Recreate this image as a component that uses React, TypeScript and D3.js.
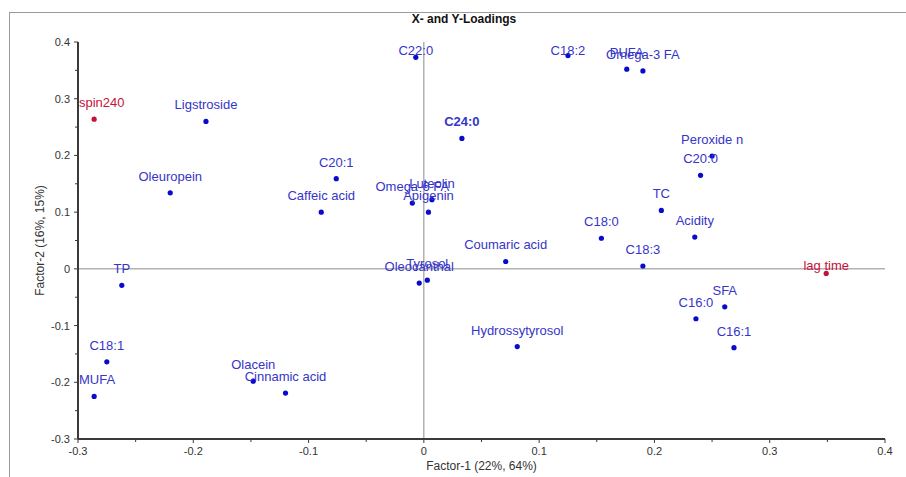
import React from "react";
import * as d3 from "d3";

const labels = [
  "spin240", "Ligstroside", "C22:0", "Oleuropein", "C20:1", "Caffeic acid",
  "Omega-6 FA", "Luteolin", "Apigenin", "C24:0", "C18:2", "PUFA", "Omega-3 FA",
  "Peroxide n", "C20:0", "TC", "Acidity", "C18:0", "Coumaric acid", "C18:3",
  "lag time", "SFA", "C16:0", "C16:1", "Hydrossytyrosol", "Tyrosol",
  "Oleocanthal", "TP", "C18:1", "MUFA", "Olacein", "Cinnamic acid",
];
const factor1 = [
  -0.286, -0.189, -0.007, -0.22, -0.076, -0.089,
  -0.01, 0.007, 0.004, 0.033, 0.125, 0.176, 0.19,
  0.25, 0.24, 0.206, 0.235, 0.154, 0.071, 0.19,
  0.349, 0.261, 0.236, 0.269, 0.081, 0.003,
  -0.004, -0.262, -0.275, -0.286, -0.148, -0.12,
];
const factor2 = [
  0.264, 0.26, 0.373, 0.134, 0.159, 0.1,
  0.116, 0.122, 0.1, 0.23, 0.376, 0.352, 0.349,
  0.199, 0.165, 0.103, 0.056, 0.054, 0.013, 0.005,
  -0.008, -0.067, -0.088, -0.139, -0.137, -0.02,
  -0.025, -0.029, -0.164, -0.225, -0.198, -0.219,
];
// Y-variables (drawn in red)
const yVariables = ["spin240", "lag time"];
const boldLabels = ["C24:0"];
const labelShift: Record<string, number> = { "lag time": 9 };

const majorTicks = [-0.3, -0.2, -0.1, 0, 0.1, 0.2, 0.3, 0.4];
const minorTicks = [-0.25, -0.15, -0.05, 0.05, 0.15, 0.25, 0.35];

const W = 906;
const H = 477;
const left = 78, right = 885, top = 42, bottom = 439;

const LABEL_FONT = "13px 'Liberation Sans', Arial, sans-serif";
let ctx: CanvasRenderingContext2D | null = null;
function textWidth(t: string, font: string) {
  if (!ctx) {
    const c = document.createElement("canvas");
    ctx = c.getContext("2d");
  }
  if (!ctx) return t.length * 7;
  ctx.font = font;
  return ctx.measureText(t).width;
}

const fmt = (v: number) => (Math.abs(v) < 1e-9 ? "0" : v.toFixed(1));

export default function App() {
  const x = d3.scaleLinear().domain([-0.3, 0.4]).range([left, right]);
  const y = d3.scaleLinear().domain([-0.3, 0.4]).range([bottom, top]);

  const blue = "#0a0acc";
  const blueText = "#3535c8";
  const red = "#c8103a";
  const axisCol = "#3a3a3a";
  const tickText = "#333";

  const points = labels.map((name, i) => {
    const px = x(factor1[i]);
    const py = y(factor2[i]);
    const isY = yVariables.includes(name);
    const bold = boldLabels.includes(name);
    const w = textWidth(name, (bold ? "bold " : "") + LABEL_FONT);
    let lx = px - w / 2;
    if (lx < left + 1) lx = left + 1;
    if (lx + w > right) lx = right - w;
    let cy = py - 16.5;
    if (cy < 50) cy = 50;
    cy += labelShift[name] || 0;
    return { name, px, py, isY, bold, lx, base: cy + 4.5 };
  });

  return (
    <svg
      width={W}
      height={H}
      style={{ position: "absolute", left: 0, top: 0, display: "block", background: "#fff" }}
      fontFamily="'Liberation Sans', Arial, sans-serif"
    >
      <rect x={9.5} y={12.5} width={1000} height={1000} fill="none" stroke="#9a9a9a" strokeWidth={1} />
      <text x={464} y={23} textAnchor="middle" fontSize={12} fontWeight="bold" fill="#111">
        X- and Y-Loadings
      </text>

      {/* zero lines */}
      <line x1={left} x2={right} y1={y(0)} y2={y(0)} stroke="#8c8c8c" strokeWidth={1} />
      <line x1={x(0)} x2={x(0)} y1={top} y2={bottom} stroke="#8c8c8c" strokeWidth={1} />

      {/* y axis */}
      <line x1={left} x2={left} y1={top} y2={bottom} stroke={axisCol} strokeWidth={2} />
      {majorTicks.map((v) => (
        <g key={"ym" + v}>
          <line x1={left - 4} x2={left} y1={y(v)} y2={y(v)} stroke={axisCol} strokeWidth={1} />
          <text x={left - 8} y={y(v) + 4} textAnchor="end" fontSize={11} fill={tickText}>
            {fmt(v)}
          </text>
        </g>
      ))}
      {minorTicks.map((v) => (
        <line key={"yn" + v} x1={left - 3} x2={left} y1={y(v)} y2={y(v)} stroke={axisCol} strokeWidth={1} />
      ))}

      {/* x axis */}
      <line x1={left} x2={right} y1={bottom} y2={bottom} stroke={axisCol} strokeWidth={2} />
      {majorTicks.map((v) => (
        <g key={"xm" + v}>
          <line x1={x(v)} x2={x(v)} y1={bottom} y2={bottom + 4} stroke={axisCol} strokeWidth={1} />
          <text x={x(v)} y={bottom + 16} textAnchor="middle" fontSize={11} fill={tickText}>
            {fmt(v)}
          </text>
        </g>
      ))}
      {minorTicks.map((v) => (
        <line key={"xn" + v} x1={x(v)} x2={x(v)} y1={bottom} y2={bottom + 3} stroke={axisCol} strokeWidth={1} />
      ))}

      <text x={(left + right) / 2} y={470} textAnchor="middle" fontSize={12} fill={tickText}>
        Factor-1 (22%, 64%)
      </text>
      <text
        transform={`translate(44, ${(top + bottom) / 2}) rotate(-90)`}
        textAnchor="middle"
        fontSize={12}
        fill={tickText}
      >
        Factor-2 (16%, 15%)
      </text>

      {points.map((p) => (
        <circle key={"c" + p.name} cx={p.px} cy={p.py} r={2.6} fill={p.isY ? red : blue} />
      ))}
      {points.map((p) => (
        <text
          key={"t" + p.name}
          x={p.lx}
          y={p.base}
          fontSize={13}
          fontWeight={p.bold ? "bold" : "normal"}
          fill={p.isY ? red : blueText}
        >
          {p.name}
        </text>
      ))}
    </svg>
  );
}
